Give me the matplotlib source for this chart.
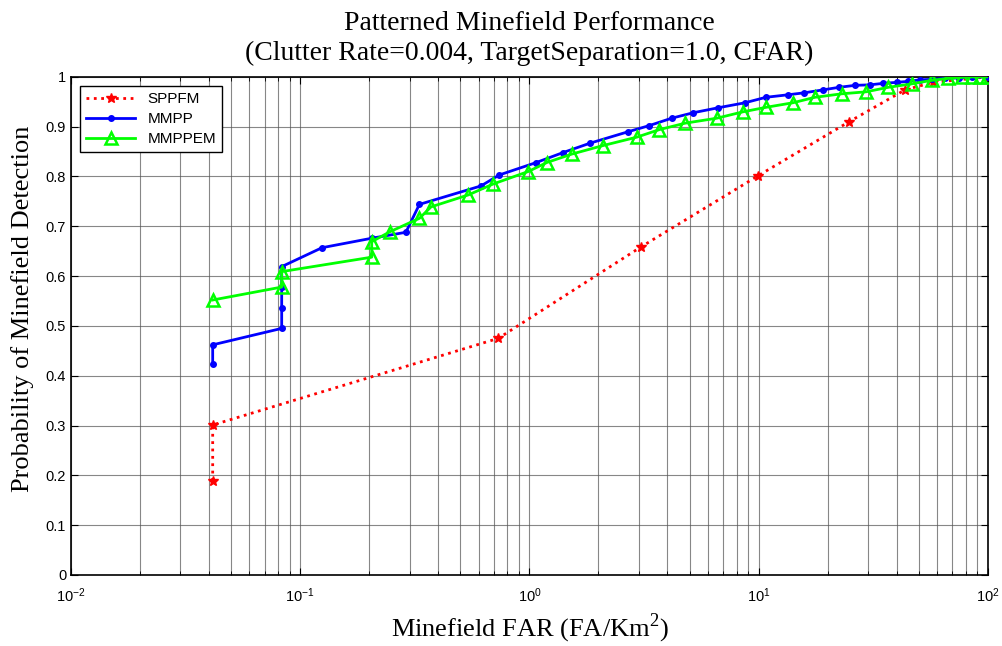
import numpy as np
import matplotlib
matplotlib.use('Agg')
import matplotlib.pyplot as plt

# data
sppfm_x = [0.0415, 0.0415, 0.731, 3.05, 9.9, 24.8, 43.5, 57.7, 100]
sppfm_y = [0.189, 0.301, 0.475, 0.658, 0.801, 0.910, 0.974, 0.989, 1.0]

mmpp_x = [0.0415, 0.0415, 0.083, 0.083, 0.083, 0.083, 0.1244, 0.205, 0.289, 0.331,
          0.614, 0.738, 1.07, 1.40, 1.84, 2.70, 3.32, 4.17, 5.18, 6.66, 8.71,
          10.75, 13.4, 15.8, 19.1, 22.4, 26.3, 30.6, 34.9, 40.0, 44.9, 50.5,
          56.8, 65.0, 75.0, 85.0, 100]
mmpp_y = [0.424, 0.462, 0.495, 0.536, 0.578, 0.619, 0.657, 0.676, 0.688, 0.744,
          0.781, 0.803, 0.828, 0.848, 0.867, 0.890, 0.902, 0.917, 0.928, 0.938, 0.948,
          0.959, 0.964, 0.968, 0.974, 0.979, 0.983, 0.984, 0.987, 0.989, 0.991, 0.994,
          0.995, 0.997, 0.998, 0.999, 1.0]

mmppem_x = [0.0415, 0.083, 0.083, 0.205, 0.205, 0.246, 0.331, 0.372, 0.541, 0.695,
            0.988, 1.19, 1.53, 2.09, 2.94, 3.68, 4.77, 6.56, 8.57, 10.8, 14.1,
            17.6, 23.0, 29.4, 36.7, 46.5, 56.8, 67.1, 76.8, 84.9, 92.3, 98.7]
mmppem_y = [0.552, 0.578, 0.609, 0.638, 0.669, 0.689, 0.716, 0.739, 0.763, 0.785,
            0.810, 0.828, 0.845, 0.862, 0.879, 0.894, 0.907, 0.917, 0.930, 0.939, 0.948,
            0.959, 0.966, 0.970, 0.979, 0.986, 0.993, 0.997, 0.999, 1.0, 1.0, 1.0]

yticklabels = ['0', '0.1', '0.2', '0.3', '0.4', '0.5', '0.6', '0.7', '0.8', '0.9', '1']

serif = 'Liberation Serif'
sans = 'Liberation Sans'
plt.rcParams['mathtext.fontset'] = 'custom'
plt.rcParams['mathtext.rm'] = serif

fig = plt.figure(figsize=(10.03, 6.46), dpi=100)
ax = fig.add_axes([0.0708, 0.110, 0.9142, 0.771])

ax.plot(sppfm_x, sppfm_y, color='red', linestyle=':', linewidth=2,
        marker='*', markersize=7, label='SPPFM', zorder=3)
ax.plot(mmpp_x, mmpp_y, color='blue', linestyle='-', linewidth=2,
        marker='.', markersize=8, label='MMPP', zorder=4)
ax.plot(mmppem_x, mmppem_y, color='#00ff00', linestyle='-', linewidth=2,
        marker='^', markersize=9, markerfacecolor='none', markeredgewidth=1.8,
        label='MMPPEM', zorder=5)

ax.set_xscale('log')
ax.set_xlim(1e-2, 1e2)
ax.set_ylim(0, 1)
ax.set_yticks(np.linspace(0, 1, len(yticklabels)))
ax.set_yticklabels(yticklabels)

ax.grid(True, which='major', color='#555555', linewidth=0.8, alpha=0.7)
ax.grid(True, which='minor', axis='x', color='#555555', linewidth=0.8, alpha=0.7)
ax.tick_params(which='both', direction='in', top=True, right=True, labelsize=10.5)
ax.tick_params(which='major', length=5)
ax.tick_params(which='minor', length=3)
ax.tick_params(axis='x', which='both', pad=8)
for lab in ax.get_xticklabels() + ax.get_yticklabels():
    lab.set_fontfamily(sans)
for sp in ax.spines.values():
    sp.set_linewidth(1.2)

ax.set_title('Patterned Minefield Performance\n(Clutter Rate=0.004, TargetSeparation=1.0, CFAR)',
             fontfamily=serif, fontsize=20, linespacing=1.25, pad=12)
ax.set_xlabel('Minefield FAR (FA/Km$^2$)', fontfamily=serif, fontsize=19, labelpad=5)
ax.set_ylabel('Probability of Minefield Detection', fontfamily=serif, fontsize=19)
ax.yaxis.set_label_coords(-0.040, 0.535)

leg = ax.legend(loc='upper left', prop={'family': sans, 'size': 11}, fancybox=False,
                framealpha=1, edgecolor='black', borderaxespad=0.6, handlelength=3.2,
                labelspacing=0.4)
leg.get_frame().set_linewidth(1.0)

fig.savefig('out.png', dpi=100)
